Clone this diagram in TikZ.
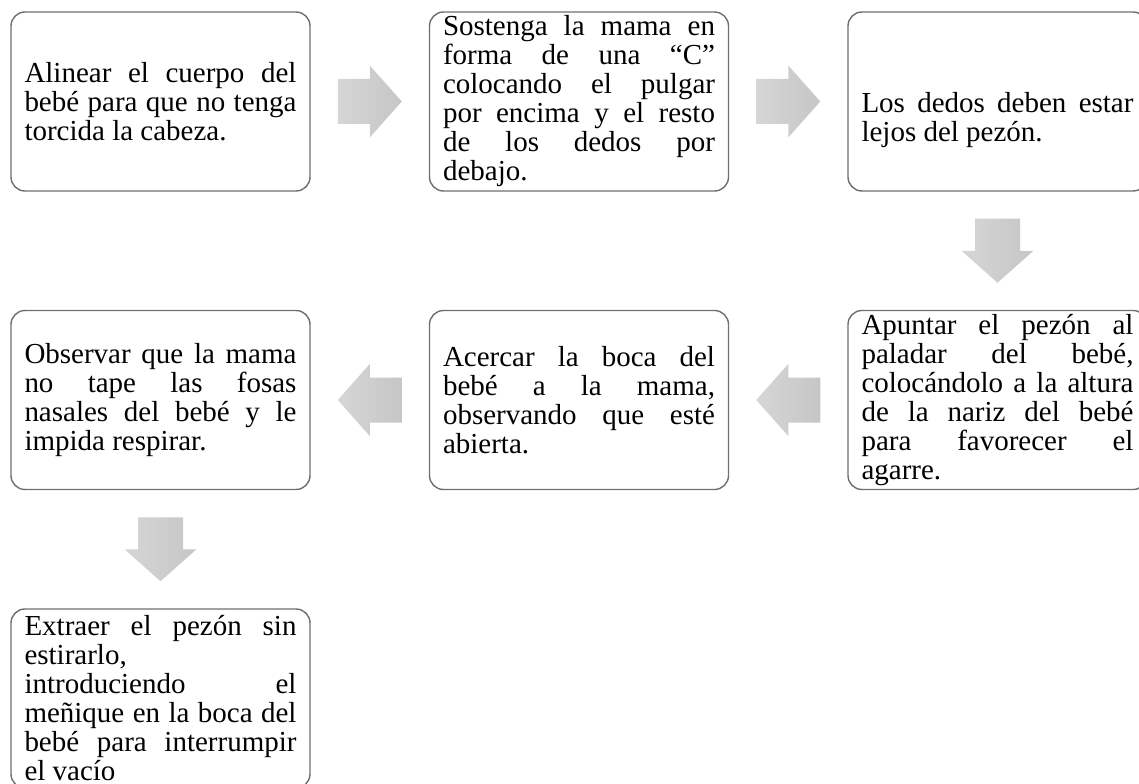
\documentclass[tikz,border=0pt]{standalone}
\usepackage{fontspec}
\setmainfont{Liberation Serif}
\usepackage{tikz}

\definecolor{borde}{RGB}{110,110,110}
\definecolor{flechaclara}{RGB}{214,214,214}
\definecolor{flechaoscura}{RGB}{198,198,198}

\tolerance=9999
\hyphenpenalty=10000

\tikzset{
  paso/.style = {draw = borde, line width = 0.8pt,
                 rounded corners = 0.28cm,
                 text width = 5.44cm, inner xsep = 0.27cm, inner ysep = 0pt,
                 minimum height = 3.58cm, align = justify,
                 font = \fontsize{16.5pt}{16.5pt}\selectfont},
  flecha/.pic = {\shade[left color = flechaclara, right color = flechaoscura]
                 (-0.64, 0.45) -- (0, 0.45) -- (0, 0.72) -- (0.64, 0) --
                 (0, -0.72) -- (0, -0.45) -- (-0.64, -0.45) -- cycle;}
}

\begin{document}
\begin{tikzpicture}
\useasboundingbox (0, 0) rectangle (22.78, -15.68);

\node[paso] (alinear) at (3.21, -2.03)
  {Alinear el cuerpo del\linebreak bebé para que no tenga\linebreak torcida la cabeza.};
\node[paso] (sostener) at (11.58, -2.03)
  {Sostenga la mama en\linebreak forma de una “C”\linebreak colocando el pulgar\linebreak
   por encima y el resto\linebreak de los dedos por\linebreak debajo.};
\node[paso] (dedos) at (19.95, -2.03)
  {\mbox{}\linebreak\mbox{}\linebreak Los dedos deben estar\linebreak lejos del pezón.};
\node[paso] (apuntar) at (19.95, -8.0)
  {Apuntar el pezón al\linebreak paladar del bebé,\linebreak colocándolo a la altura\linebreak
   de la nariz del bebé\linebreak para favorecer el\linebreak agarre.};
\node[paso] (acercar) at (11.58, -8.0)
  {Acercar la boca del\linebreak bebé a la mama,\linebreak observando que esté\linebreak abierta.};
\node[paso] (observar) at (3.21, -8.0)
  {Observar que la mama\linebreak no tape las fosas\linebreak nasales del bebé y le\linebreak
   impida respirar.};
\node[paso] (extraer) at (3.21, -13.97)
  {Extraer el pezón sin\linebreak estirarlo,\linebreak introduciendo el\linebreak
   meñique en la boca del\linebreak bebé para interrumpir\linebreak el vacío};

\path (alinear) -- (sostener) coordinate[pos = .5] (f1);
\path (sostener) -- (dedos) coordinate[pos = .5] (f2);
\path (dedos) -- (apuntar) coordinate[pos = .5] (f3);
\path (apuntar) -- (acercar) coordinate[pos = .5] (f4);
\path (acercar) -- (observar) coordinate[pos = .5] (f5);
\path (observar) -- (extraer) coordinate[pos = .5] (f6);

\pic at (f1) {flecha};
\pic at (f2) {flecha};
\pic[rotate = -90] at (f3) {flecha};
\pic[rotate = 180] at (f4) {flecha};
\pic[rotate = 180] at (f5) {flecha};
\pic[rotate = -90] at (f6) {flecha};
\end{tikzpicture}
\end{document}
